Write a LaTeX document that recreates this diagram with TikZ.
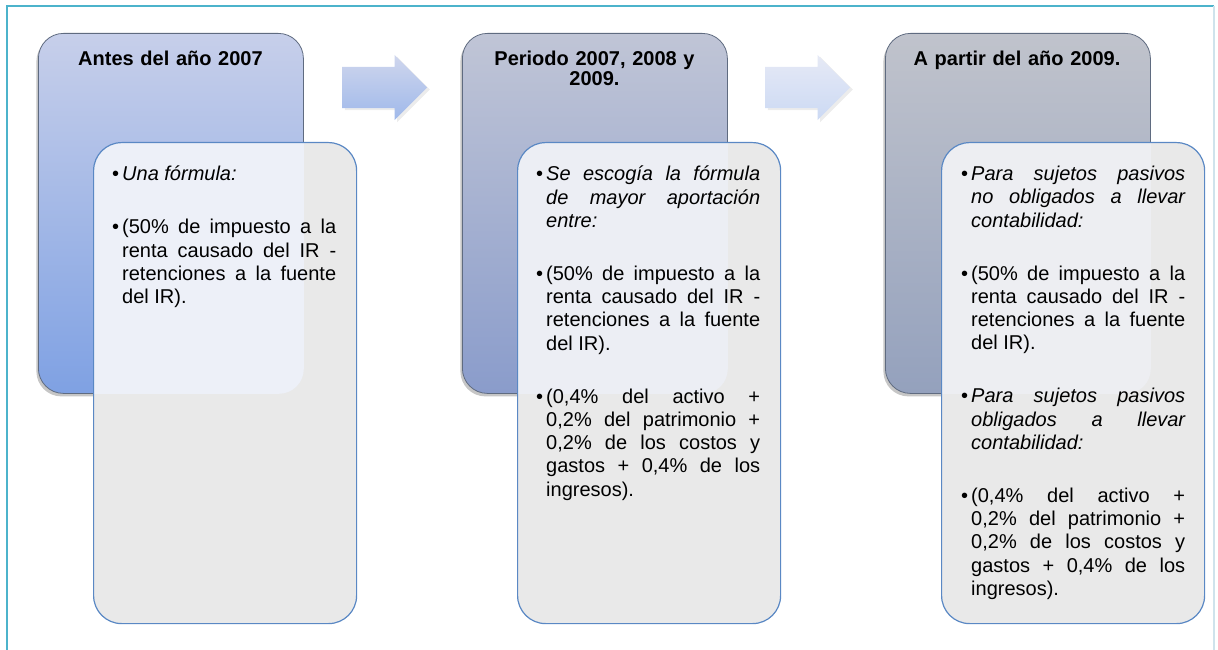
\documentclass[tikz,border=0pt]{standalone}
\usepackage{fontspec}
\setmainfont{Liberation Sans}
\usetikzlibrary{shapes.arrows,shadows}
\definecolor{arriba1}{HTML}{C7CFEA}
\definecolor{abajo1}{HTML}{7FA1E3}
\definecolor{arriba2}{HTML}{C0C5D6}
\definecolor{abajo2}{HTML}{8A9CCB}
\definecolor{arriba3}{HTML}{C0C3CC}
\definecolor{abajo3}{HTML}{94A1BD}
\definecolor{bordecaja}{HTML}{5F6B80}
\definecolor{bordetarjeta}{HTML}{5A88C4}
\definecolor{fondotarjeta}{HTML}{E9E9E9}
\definecolor{claro1}{HTML}{EDF0F8}
\definecolor{claro2}{HTML}{ECEEF4}
\definecolor{claro3}{HTML}{EDEEF2}
\definecolor{marcoazul}{HTML}{4CB3CB}
\definecolor{marcogris}{HTML}{CFE3EC}
\newcommand{\bulA}{\noindent\llap{\textbullet\hspace{3pt}}}
\newcommand{\bul}{\par\noindent\llap{\textbullet\hspace{3pt}}}
\begin{document}
\begin{tikzpicture}[x=1pt,y=-1pt]
            \tikzstyle{caja}=[rectangle,rounded corners=25pt,minimum width=265pt,minimum height=360pt,anchor=north west,draw=bordecaja,line width=0.8pt,drop shadow={shadow xshift=-2pt,shadow yshift=-3pt,opacity=0.45}]
            \tikzstyle{tarjeta}=[rectangle,rounded corners=28pt,minimum width=263pt,minimum height=481pt,anchor=north west,fill=fondotarjeta,draw=bordetarjeta,line width=1.2pt]
            \tikzstyle{titulo}=[anchor=north,text width=240pt,align=center,inner sep=0pt,font=\fontsize{20}{20.5}\selectfont\bfseries]
            \tikzstyle{texto}=[anchor=north west,text width=214pt,align=justify,inner sep=0pt,font=\fontsize{20}{23.3}\selectfont]
            \tikzstyle{flecha}=[single arrow,single arrow head extend=12pt,minimum height=85pt,inner xsep=0pt,inner ysep=20.5pt,anchor=tail,drop shadow={shadow yshift=-2pt,opacity=0.15}]
            \useasboundingbox (0,0) rectangle (1218,650);
            \draw[marcoazul,line width=2pt] (7,650) -- (7,6) -- (1214,6);
            \draw[marcogris,line width=1.5pt] (1214,6) -- (1214,650);
            \node[caja,top color=arriba1,bottom color=abajo1] (b1) at (38,33) {};
            \node[caja,top color=arriba2,bottom color=abajo2] (b2) at (462,33) {};
            \node[caja,top color=arriba3,bottom color=abajo3] (b3) at (885,33) {};
            \node[flecha,top color=arriba1!85!white,bottom color=abajo1!75!white] (a1) at (342,87.5) {};
            \node[flecha,top color=arriba1!45!white,bottom color=abajo1!40!white] (a2) at (765,87.5) {};
            \node[titulo] (h1) at (170.5,50.5) {Antes del año 2007};
            \node[titulo] (h2) at (594.5,50.5) {Periodo 2007, 2008 y\\2009.};
            \node[titulo] (h3) at (1017,50.5) {A partir del año 2009.};
            \node[tarjeta,path picture={\fill[rounded corners=25pt,claro1] (b1.north west) rectangle (b1.south east);}] (c1) at (93,142) {};
            \node[tarjeta,path picture={\fill[rounded corners=25pt,claro2] (b2.north west) rectangle (b2.south east);}] (c2) at (517,142) {};
            \node[tarjeta,path picture={\fill[rounded corners=25pt,claro3] (b3.north west) rectangle (b3.south east);}] (c3) at (941,142) {};
            \node[texto] (t1) at (122,166) {\parskip=29.5pt\tolerance=10000
              \bulA\textit{Una fórmula:}
              \bul(50\% de impuesto a la\linebreak renta causado del IR -\linebreak retenciones a la fuente\linebreak del IR).};
            \node[texto] (t2) at (546,166) {\parskip=29.5pt\tolerance=10000
              \bulA\textit{Se escogía la fórmula\linebreak de mayor aportación\linebreak entre:}
              \bul(50\% de impuesto a la\linebreak renta causado del IR -\linebreak retenciones a la fuente\linebreak del IR).
              \bul(0,4\% del activo +\linebreak 0,2\% del patrimonio +\linebreak 0,2\% de los costos y\linebreak gastos + 0,4\% de los\linebreak ingresos).};
            \node[texto] (t3) at (971,166) {\parskip=29.5pt\tolerance=10000
              \bulA\textit{Para sujetos pasivos\linebreak no obligados a llevar\linebreak contabilidad:}
              \bul(50\% de impuesto a la\linebreak renta causado del IR -\linebreak retenciones a la fuente\linebreak del IR).
              \bul\textit{Para sujetos pasivos\linebreak obligados a llevar\linebreak contabilidad:}
              \bul(0,4\% del activo +\linebreak 0,2\% del patrimonio +\linebreak 0,2\% de los costos y\linebreak gastos + 0,4\% de los\linebreak ingresos).};
        \end{tikzpicture}
\end{document}
